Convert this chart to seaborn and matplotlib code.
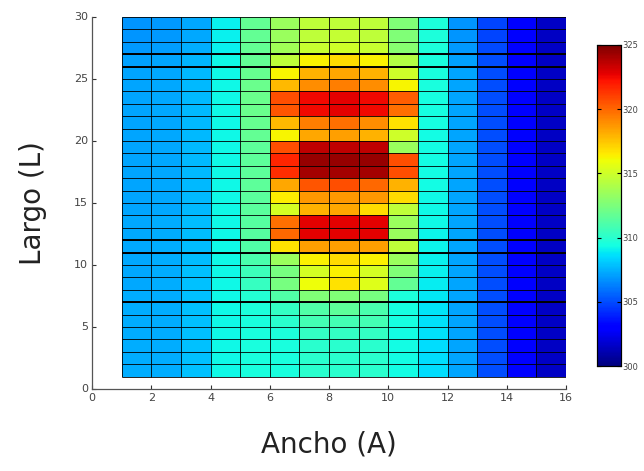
import numpy as np
import pandas as pd
import matplotlib
matplotlib.use("Agg")
import matplotlib.pyplot as plt
import seaborn as sns

# temperatura por celda, filas de arriba (y=29) hacia abajo (y=1), columnas x=1..15
rows_top_to_bottom = [
    [306.8, 306.9, 307.3, 309.0, 311.8, 313.4, 314.5, 314.5, 314.5, 312.6, 309.6, 306.8, 304.8, 303.0, 301.5],
    [306.8, 306.9, 307.3, 309.0, 311.8, 313.4, 314.5, 314.7, 314.5, 312.6, 309.6, 306.8, 304.8, 303.0, 301.5],
    [306.9, 307.0, 307.4, 309.0, 311.8, 313.6, 314.8, 315.0, 314.8, 312.8, 309.6, 306.9, 304.9, 303.0, 301.5],
    [307.1, 307.2, 307.6, 309.2, 311.8, 314.5, 316.4, 316.9, 316.4, 314.2, 309.5, 307.1, 305.0, 303.0, 301.5],
    [307.2, 307.3, 307.7, 309.2, 311.9, 316.3, 318.0, 318.3, 318.0, 315.0, 309.5, 307.2, 305.0, 303.0, 301.5],
    [307.2, 307.3, 307.7, 309.2, 312.0, 317.8, 319.0, 319.4, 319.0, 316.3, 309.5, 307.2, 305.0, 303.0, 301.5],
    [307.2, 307.3, 307.7, 309.2, 312.0, 320.7, 322.5, 322.8, 322.5, 320.3, 309.4, 307.2, 305.0, 303.0, 301.5],
    [307.2, 307.3, 307.7, 309.2, 312.0, 320.5, 322.5, 322.8, 322.5, 319.8, 309.4, 307.2, 305.0, 303.0, 301.5],
    [307.2, 307.3, 307.7, 309.2, 311.9, 317.8, 319.4, 319.8, 319.0, 316.7, 309.4, 307.2, 305.0, 303.0, 301.5],
    [307.2, 307.3, 307.7, 309.2, 311.8, 316.3, 318.3, 318.5, 318.0, 315.0, 309.3, 307.2, 305.0, 303.0, 301.5],
    [307.2, 307.3, 307.7, 309.2, 311.6, 320.7, 323.6, 323.6, 323.6, 313.4, 309.3, 307.2, 305.0, 303.0, 301.5],
    [307.2, 307.3, 307.7, 309.2, 311.6, 321.7, 324.5, 324.5, 324.5, 320.7, 309.3, 307.2, 305.0, 303.0, 301.5],
    [307.2, 307.3, 307.7, 309.2, 311.6, 321.5, 324.2, 324.2, 324.2, 320.7, 309.3, 307.2, 305.0, 303.0, 301.5],
    [307.2, 307.3, 307.7, 309.2, 311.6, 318.3, 320.5, 320.7, 320.0, 318.0, 309.3, 307.2, 305.0, 303.0, 301.5],
    [307.2, 307.3, 307.7, 309.2, 311.5, 316.5, 318.7, 318.7, 318.7, 316.9, 309.2, 307.2, 305.0, 303.0, 301.5],
    [307.2, 307.3, 307.7, 309.2, 311.5, 315.2, 318.0, 318.3, 316.9, 314.5, 309.2, 307.2, 305.0, 303.0, 301.5],
    [307.3, 307.4, 307.8, 309.2, 311.4, 319.8, 322.8, 322.8, 322.8, 313.4, 309.2, 307.2, 305.0, 303.0, 301.5],
    [307.3, 307.4, 307.8, 309.2, 311.4, 320.0, 322.8, 322.8, 322.8, 313.4, 309.1, 307.2, 305.0, 303.0, 301.5],
    [307.3, 307.4, 307.8, 309.2, 311.2, 316.7, 318.5, 318.5, 318.5, 314.5, 309.1, 307.2, 305.0, 303.0, 301.5],
    [307.3, 307.4, 307.8, 309.2, 311.0, 313.4, 316.4, 316.9, 316.4, 313.4, 309.0, 307.2, 305.0, 303.0, 301.5],
    [307.3, 307.4, 307.9, 309.2, 310.6, 312.4, 315.2, 316.4, 315.2, 312.6, 309.0, 307.2, 305.0, 303.0, 301.5],
    [307.3, 307.4, 307.9, 309.2, 310.4, 312.4, 316.0, 316.7, 315.5, 311.8, 308.9, 307.2, 305.0, 303.0, 301.5],
    [307.4, 307.4, 307.9, 309.2, 309.8, 311.2, 312.6, 312.6, 312.4, 309.6, 308.8, 307.2, 305.0, 303.0, 301.5],
    [307.4, 307.4, 307.9, 309.2, 309.6, 310.3, 311.2, 311.6, 311.0, 309.4, 308.7, 307.2, 305.0, 303.0, 301.5],
    [307.4, 307.4, 307.9, 309.2, 309.5, 310.0, 310.8, 310.8, 310.8, 309.4, 308.6, 307.2, 305.0, 303.0, 301.5],
    [307.4, 307.4, 307.9, 309.2, 309.5, 309.6, 310.3, 310.3, 310.3, 309.3, 308.6, 307.2, 305.0, 303.0, 301.5],
    [307.4, 307.4, 307.9, 309.2, 309.5, 309.5, 310.0, 310.0, 310.0, 309.3, 308.5, 307.2, 305.0, 303.0, 301.5],
    [307.4, 307.4, 307.9, 309.2, 309.5, 309.5, 310.0, 310.0, 310.0, 309.3, 308.5, 307.2, 305.0, 303.0, 301.5],
    [307.4, 307.4, 307.9, 309.2, 309.5, 309.5, 310.0, 310.0, 310.0, 309.3, 308.5, 307.2, 305.0, 303.0, 301.5],
]
x_ticks = [0, 2, 4, 6, 8, 10, 12, 14, 16]
y_ticks = [0, 5, 10, 15, 20, 25, 30]
cbar_ticks = [300, 305, 310, 315, 320, 325]
thick_rows = [7, 11, 12, 26, 27]

# matriz 30x16: fila y=0 y columna x=0 vacias (la malla empieza en 1)
vals = np.array(rows_top_to_bottom)[::-1]
grid = np.full((30, 16), np.nan)
grid[1:, 1:] = vals
df = pd.DataFrame(grid)

fig = plt.figure(figsize=(6.44, 4.71), dpi=100)
ax = fig.add_axes([92 / 644, 82 / 471, 474 / 644, 372 / 471])
cax = fig.add_axes([597 / 644, 105 / 471, 24 / 644, 321 / 471])

sns.heatmap(df, ax=ax, cbar_ax=cax, cmap="jet", vmin=300, vmax=325,
            linewidths=0, cbar_kws={"ticks": cbar_ticks})

ax.set_xlim(0, 16)
ax.set_ylim(0, 30)

# lineas de la malla solo sobre las celdas
ny, nx = vals.shape
ax.hlines(np.arange(1, ny + 2), 1, nx + 1, color="black", lw=0.6)
ax.vlines(np.arange(1, nx + 2), 1, ny + 1, color="black", lw=0.6)
ax.hlines(thick_rows, 1, nx + 1, color="black", lw=1.4)

ax.set_xticks(x_ticks)
ax.set_xticklabels([str(t) for t in x_ticks], rotation=0)
ax.set_yticks(y_ticks)
ax.set_yticklabels([str(t) for t in y_ticks], rotation=0)
ax.tick_params(direction="in", length=3, width=0.8, labelsize=8,
               labelcolor="#444444", color="#333333", pad=3)

for side in ["left", "bottom"]:
    ax.spines[side].set_visible(True)
    ax.spines[side].set_color("#555555")
    ax.spines[side].set_linewidth(0.9)

ax.set_xlabel("Ancho (A)", fontsize=20, color="#222222", labelpad=20)
ax.set_ylabel("Largo (L)", fontsize=20, color="#222222", labelpad=19)

cax.tick_params(direction="in", length=3, labelsize=6, labelcolor="#444444",
                left=True, right=True, pad=1)
for sp in cax.spines.values():
    sp.set_visible(True)
    sp.set_color("black")
    sp.set_linewidth(0.8)

fig.savefig("out.png", dpi=100)
